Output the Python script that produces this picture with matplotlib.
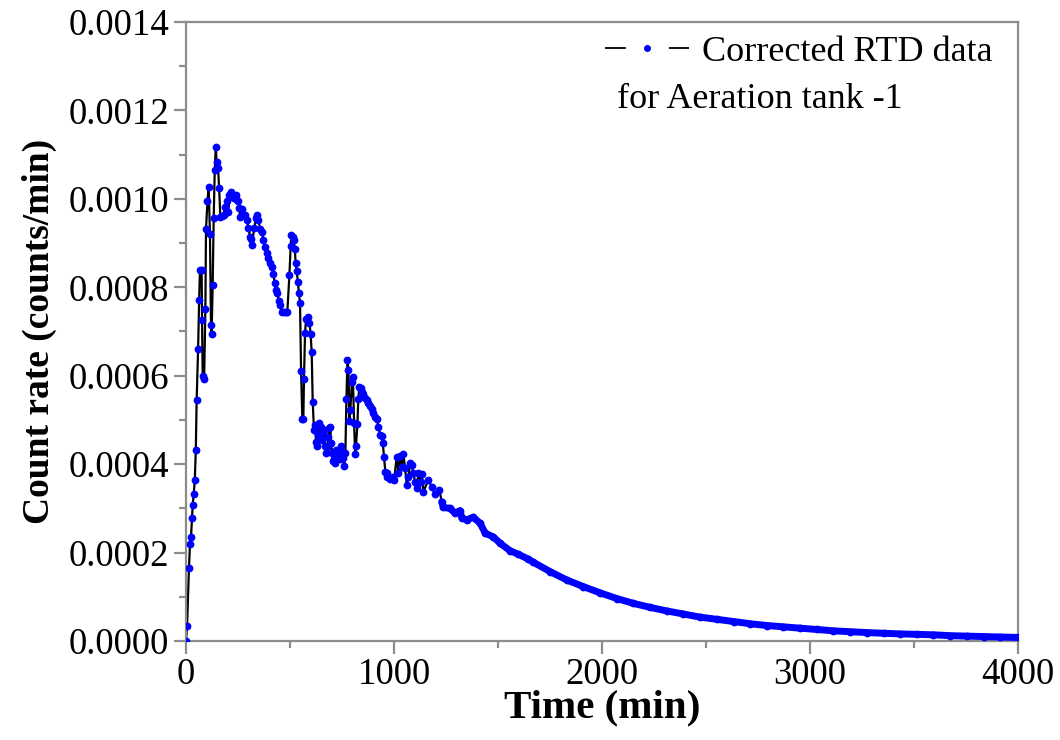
import numpy as np
import matplotlib.pyplot as plt
from matplotlib.ticker import MultipleLocator, FormatStrFormatter
from matplotlib.lines import Line2D

plt.rcParams['font.family'] = ['Liberation Serif', 'DejaVu Serif']
plt.rcParams['lines.scale_dashes'] = False

# time (min) and corrected count rate (x 1e-4 counts/min)
time_min = [0, 5, 14, 19, 24, 29, 32, 37, 42, 47, 51, 58, 63, 67, 75, 77, 80, 87, 93, 96,
            103, 109, 115, 120, 123, 128, 133, 138, 143, 147, 154, 159, 165, 175, 181, 186,
            196, 204, 208, 215, 224, 232, 240, 247, 252, 256, 260, 268, 276, 284, 292, 300,
            308, 313, 318, 327, 337, 343, 348, 356, 364, 372, 380, 388, 396, 404, 412, 420,
            426, 433, 439, 446, 452, 460, 471, 481, 487, 497, 503, 506, 513, 518, 523, 527,
            532, 538, 543, 548, 553, 559, 564, 567, 572, 577, 585, 593, 599, 604, 609, 615,
            620, 625, 631, 636, 641, 648, 653, 657, 664, 668, 673, 679, 684, 689, 694, 697,
            702, 705, 712, 716, 721, 728, 734, 740, 747, 752, 756, 761, 766, 771, 776, 781,
            785, 790, 797, 802, 808, 813, 817, 824, 828, 833, 840, 846, 852, 861, 869, 877,
            885, 893, 901, 909, 917, 925, 933, 941, 946, 952, 958, 965, 968, 981, 994, 1000,
            1013, 1021, 1029, 1037, 1045, 1053, 1061, 1069, 1077, 1085, 1093, 1101, 1109, 1117,
            1128, 1133, 1141, 1165, 1181, 1197, 1218, 1229, 1237, 1269, 1293, 1317, 1326, 1350,
            1381, 1414, 1438, 1478, 1510, 1558, 1598, 1646, 1670, 1750, 1830, 1910, 1990, 2071,
            2151, 2231, 2311, 2391, 2471, 2552, 2632, 2712, 2792, 2872, 2952, 3032, 3112, 3193,
            3273, 3353, 3433, 3513, 3593, 3674, 3754, 3834, 3914, 4000]
count_rate = [0.0, 0.34, 1.64, 2.19, 2.35, 2.79, 3.08, 3.32, 3.63, 4.31, 5.44, 6.60, 7.71, 8.39,
              8.39, 7.26, 6.00, 5.92, 7.51, 9.31, 9.95, 10.26, 9.20, 7.14, 6.94, 8.05, 9.57, 10.65,
              11.18, 10.84, 10.69, 10.25, 9.60, 9.61, 9.63, 9.81, 9.94, 9.71, 10.09, 10.16, 10.05,
              10.03, 10.09, 9.97, 9.94, 9.79, 9.60, 9.77, 9.63, 9.63, 9.52, 9.35, 9.13, 9.09, 8.96,
              9.33, 9.56, 9.63, 9.52, 9.32, 9.26, 9.07, 8.92, 8.77, 8.66, 8.54, 8.45, 8.30, 8.10,
              7.94, 7.86, 7.70, 7.60, 7.45, 7.43, 7.45, 7.45, 8.28, 8.93, 9.18, 9.14, 9.07, 8.86,
              8.54, 8.37, 8.11, 7.86, 7.64, 6.11, 5.03, 5.03, 5.93, 6.96, 7.28, 7.33, 7.20, 6.94,
              6.54, 5.41, 4.77, 4.89, 4.51, 4.42, 4.66, 4.94, 4.85, 4.55, 4.73, 4.77, 4.41, 4.25,
              4.39, 4.62, 4.81, 4.83, 4.48, 4.25, 4.06, 4.11, 4.03, 4.32, 4.16, 4.18, 4.11, 4.42,
              4.28, 4.13, 3.96, 4.26, 5.47, 6.36, 6.14, 4.98, 5.22, 5.85, 5.98, 4.92, 4.23, 4.41,
              4.91, 5.47, 5.75, 5.72, 5.64, 5.59, 5.50, 5.45, 5.38, 5.31, 5.25, 5.16, 5.07, 5.01,
              4.85, 4.66, 4.64, 4.47, 4.15, 3.83, 3.79, 3.72, 3.66, 3.72, 3.64, 4.17, 3.79, 4.18,
              3.94, 4.23, 3.91, 3.53, 3.72, 4.02, 3.98, 3.79, 3.60, 3.45, 3.79, 3.60, 3.78, 3.38,
              3.64, 3.49, 3.32, 3.42, 3.15, 3.02, 3.00, 2.89, 2.95, 2.78, 2.74, 2.80, 2.66, 2.44,
              2.35, 2.21, 2.04, 1.96, 1.85, 1.78, 1.57, 1.38, 1.23, 1.09, 0.96, 0.85, 0.76, 0.68,
              0.61, 0.54, 0.49, 0.44, 0.39, 0.35, 0.32, 0.29, 0.26, 0.23, 0.21, 0.19, 0.175, 0.16,
              0.15, 0.14, 0.12, 0.11, 0.10, 0.09, 0.08]

t = np.array(time_min)
y = np.array(count_rate) * 1e-4

fig = plt.figure(figsize=(10.6, 7.4), dpi=100)
ax = fig.add_axes([0.1755, 0.1338, 0.785, 0.8365])

ax.plot(t, y, color='black', lw=1.6, zorder=2)
ax.plot(t, y, ls='none', marker='o', ms=4.6, mfc='blue', mec='blue', zorder=3)
# the tail is sampled so densely that the markers merge into a band
tail = t >= 1229
ax.plot(t[tail], y[tail], color='blue', lw=5.0, solid_capstyle='round', zorder=3)

ax.set_xlim(0, 4000)
ax.set_ylim(0, 0.0014)
ax.xaxis.set_major_locator(MultipleLocator(1000))
ax.xaxis.set_minor_locator(MultipleLocator(500))
ax.yaxis.set_major_locator(MultipleLocator(0.0002))
ax.yaxis.set_minor_locator(MultipleLocator(0.0001))
ax.yaxis.set_major_formatter(FormatStrFormatter('%.4f'))

for s in ax.spines.values():
    s.set_color('#8c8c8c')
    s.set_linewidth(1.6)
ax.tick_params(which='both', direction='out', color='#8c8c8c', width=1.6,
               labelsize=26.5, labelcolor='black', top=False, right=False)
ax.tick_params(which='major', length=9, pad=3)
ax.tick_params(which='minor', length=5)

ax.set_xlabel('Time (min)', fontsize=29.5, fontweight='bold', labelpad=-2)
ax.set_ylabel('Count rate (counts/min)', fontsize=27, fontweight='bold', labelpad=8)

# legend symbol: line - dot - line with gaps
h_line = Line2D([], [], color='black', lw=1.3, dashes=(15, 31, 16, 0))
h_dot = Line2D([], [], ls='none', marker='o', ms=4, mfc='blue', mec='blue')
ax.legend([(h_line, h_dot)], ['Corrected RTD data'], loc='center left',
          bbox_to_anchor=(0.503, 0.9515), frameon=False, fontsize=26,
          borderpad=0, borderaxespad=0, handlelength=2.35, handletextpad=0.35)
ax.text(0.518, 0.874, 'for Aeration tank -1', transform=ax.transAxes,
        fontsize=26, va='center', ha='left')

plt.savefig('out.png', dpi=100)
